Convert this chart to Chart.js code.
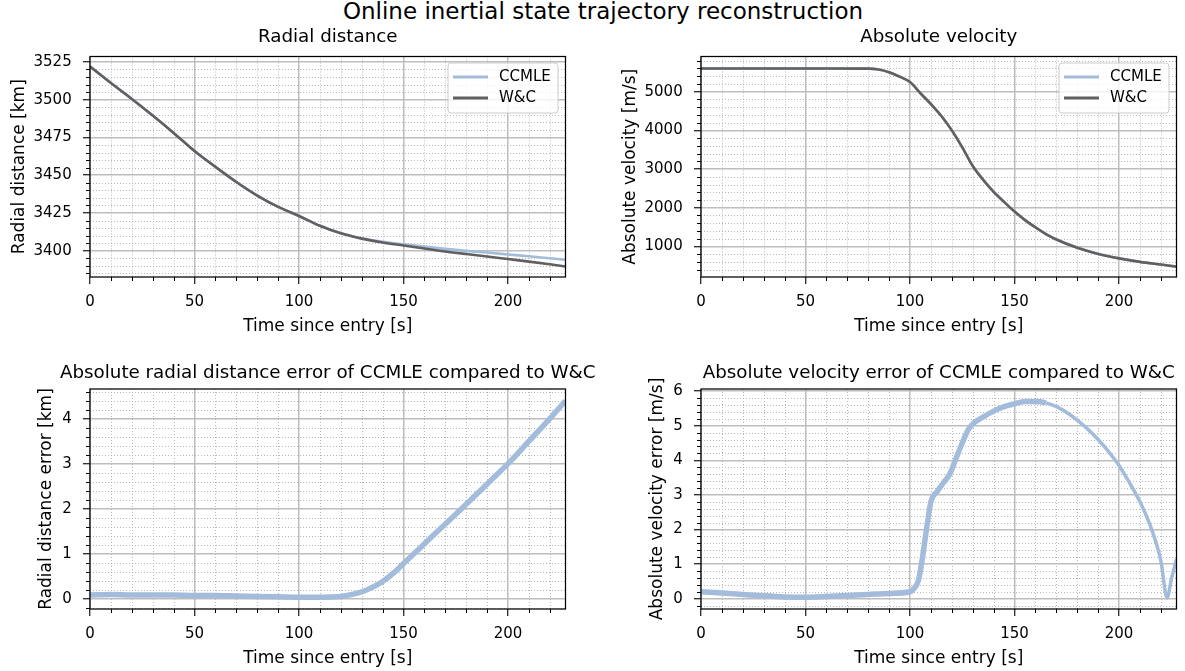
<!DOCTYPE html>
<html>
<head>
<meta charset="utf-8">
<script src="https://cdn.jsdelivr.net/npm/chart.js@4.4.1/dist/chart.umd.min.js"></script>
<style>
  html, body { margin: 0; padding: 0; background: #fff; overflow: hidden; }
  body { width: 1185px; height: 671px; position: relative; font-family: 'DejaVu Sans', sans-serif; }
  canvas { position: absolute; }
  #suptitle { position: absolute; left: 21px; top: 0; width: 1164px; text-align: center;
              font-size: 23px; line-height: 23px; color: #000; }
</style>
</head>
<body>
<div id="suptitle">Online inertial state trajectory reconstruction</div>
<canvas id="radialChart" width="620" height="340" style="left:0;top:0;width:620px;height:340px"></canvas>
<canvas id="velChart" width="590" height="340" style="left:595px;top:0;width:590px;height:340px"></canvas>
<canvas id="radErrChart" width="620" height="331" style="left:0;top:340px;width:620px;height:331px"></canvas>
<canvas id="velErrChart" width="590" height="331" style="left:595px;top:340px;width:590px;height:331px"></canvas>
<script>
// values
var timeTicks = [0, 50, 100, 150, 200];

var timeRadial = [0, 10, 20, 30, 40, 50, 60, 70, 80, 90, 100, 110, 120, 130, 140, 150, 160, 170, 180, 190, 200, 210, 220, 227.5];
var radialWC = [3522, 3511, 3500.5, 3489.5, 3478, 3466, 3455.5, 3445.5, 3436.5, 3429, 3423, 3416.5, 3411.5, 3408, 3405.5, 3403.5, 3401.5, 3399.5, 3397.8, 3396.2, 3394.5, 3392.8, 3391, 3389.6];
var radialCCMLE = [3522.1, 3511.1, 3500.6, 3489.6, 3478.1, 3466.1, 3455.6, 3445.6, 3436.6, 3429.0, 3423.0, 3416.5, 3411.6, 3408.2, 3405.9, 3404.3, 3402.7, 3401.2, 3399.9, 3398.8, 3397.5, 3396.3, 3395.0, 3394.0];
var radialTicks = [3400, 3425, 3450, 3475, 3500, 3525];

var timeVel = [0, 20, 40, 60, 80, 85, 90, 95, 100, 105, 110, 115, 120, 125, 130, 135, 140, 145, 150, 155, 160, 165, 170, 180, 190, 200, 210, 220, 227.5];
var velWC = [5600, 5600, 5600, 5600, 5597, 5575, 5505, 5390, 5250, 4960, 4680, 4370, 4000, 3560, 3080, 2720, 2410, 2150, 1900, 1680, 1490, 1320, 1180, 965, 805, 690, 600, 530, 478];
var velCCMLE = [5600.2, 5600.1, 5600.1, 5600.1, 5597.1, 5575.2, 5505.2, 5390.2, 5250.3, 4960.9, 4682.9, 4373.3, 4003.7, 3564.5, 3085.1, 2725.3, 2415.4, 2155.6, 1905.6, 1685.7, 1495.7, 1325.7, 1185.6, 970.2, 809.6, 693.9, 602.8, 531.1, 479.2];
var velTicks = [1000, 2000, 3000, 4000, 5000];

var timeRadErr = [0, 10, 20, 30, 40, 50, 60, 70, 80, 90, 100, 110, 115, 120, 125, 130, 135, 140, 145, 150, 155, 160, 165, 170, 180, 190, 200, 210, 220, 227.5];
var radErr = [0.08, 0.09, 0.08, 0.08, 0.08, 0.07, 0.07, 0.06, 0.05, 0.04, 0.03, 0.03, 0.035, 0.05, 0.09, 0.15, 0.25, 0.38, 0.56, 0.78, 1.0, 1.22, 1.44, 1.66, 2.1, 2.55, 3.0, 3.5, 4.0, 4.4];
var radErrTicks = [0, 1, 2, 3, 4];

var timeVelErr = [0, 10, 20, 30, 40, 50, 60, 70, 80, 90, 100, 102, 104, 106, 108, 110, 113, 116, 119, 122, 125, 128, 131, 135, 140, 145, 150, 155, 160, 165, 170, 175, 180, 185, 190, 195, 200, 205, 210, 215, 220, 223, 225, 227.5];
var velErr = [0.2, 0.16, 0.12, 0.08, 0.05, 0.04, 0.06, 0.09, 0.12, 0.15, 0.2, 0.3, 0.52, 1.2, 2.05, 2.8, 3.1, 3.35, 3.6, 4.05, 4.5, 4.9, 5.1, 5.25, 5.42, 5.55, 5.63, 5.7, 5.7, 5.66, 5.55, 5.38, 5.16, 4.9, 4.6, 4.25, 3.85, 3.35, 2.8, 2.1, 1.1, 0.02, 0.55, 1.15];
var velErrTicks = [0, 1, 2, 3, 4, 5, 6];

var blue = '#a4bcdc';
var grey = '#606060';

Chart.defaults.font.family = "'DejaVu Sans', sans-serif";
Chart.defaults.font.size = 15;
Chart.defaults.color = '#000';

function pts(xs, ys) {
    return xs.map(function (x, i) { return {x: x, y: ys[i]}; });
}

function isMajor(v, step) {
    var r = v / step;
    return Math.abs(r - Math.round(r)) < 1e-6;
}

function fixedTicks(list) {
    return function (s) { s.ticks = list.map(function (v) { return {value: v}; }); };
}

// matplotlib-like minor grid, minor ticks, frame, axes title and legend
var mplExtras = {
    id: 'mplExtras',
    beforeDatasetsDraw: function (chart, args, o) {
        var ctx = chart.ctx, a = chart.chartArea, x = chart.scales.x, y = chart.scales.y;
        ctx.save();
        ctx.lineWidth = 1;
        ctx.strokeStyle = '#b8b8b8';
        ctx.setLineDash([1, 2]);
        var v, p;
        for (v = Math.ceil(x.min / o.xStep) * o.xStep; v <= x.max; v += o.xStep) {
            if (isMajor(v, o.xMajor)) continue;
            p = Math.round(x.getPixelForValue(v)) + 0.5;
            ctx.beginPath(); ctx.moveTo(p, a.top); ctx.lineTo(p, a.bottom); ctx.stroke();
        }
        for (v = Math.ceil(y.min / o.yStep) * o.yStep; v <= y.max; v += o.yStep) {
            if (isMajor(v, o.yMajor)) continue;
            p = Math.round(y.getPixelForValue(v)) + 0.5;
            ctx.beginPath(); ctx.moveTo(a.left, p); ctx.lineTo(a.right, p); ctx.stroke();
        }
        // minor tick marks
        ctx.setLineDash([]);
        ctx.strokeStyle = '#000';
        for (v = Math.ceil(x.min / o.xStep) * o.xStep; v <= x.max; v += o.xStep) {
            if (isMajor(v, o.xMajor)) continue;
            p = Math.round(x.getPixelForValue(v)) + 0.5;
            ctx.beginPath(); ctx.moveTo(p, a.bottom); ctx.lineTo(p, a.bottom + 4); ctx.stroke();
        }
        for (v = Math.ceil(y.min / o.yStep) * o.yStep; v <= y.max; v += o.yStep) {
            if (isMajor(v, o.yMajor)) continue;
            p = Math.round(y.getPixelForValue(v)) + 0.5;
            ctx.beginPath(); ctx.moveTo(a.left, p); ctx.lineTo(a.left - 4, p); ctx.stroke();
        }
        ctx.restore();
    },
    afterDatasetsDraw: function (chart) {
        var ctx = chart.ctx, a = chart.chartArea;
        ctx.save();
        ctx.strokeStyle = '#000';
        ctx.lineWidth = 1.25;
        ctx.strokeRect(a.left, a.top, a.right - a.left, a.bottom - a.top);
        ctx.restore();
    },
    afterDraw: function (chart, args, o) {
        var ctx = chart.ctx, a = chart.chartArea;
        ctx.save();
        // axes title, centred over the plot area
        ctx.font = "18.3px 'DejaVu Sans'";
        ctx.textAlign = 'center';
        ctx.textBaseline = 'middle';
        ctx.fillStyle = '#000';
        ctx.fillText(o.title, (a.left + a.right) / 2, a.top - o.titleGap);
        if (o.legend) {
            var bw = 110, bh = 50;
            var bx = a.right - 7.5 - bw, by = a.top + 6.5;
            ctx.beginPath();
            ctx.roundRect(bx, by, bw, bh, 3);
            ctx.fillStyle = 'rgba(255,255,255,0.8)';
            ctx.fill();
            ctx.strokeStyle = '#cccccc';
            ctx.lineWidth = 1;
            ctx.stroke();
            ctx.font = "15px 'DejaVu Sans'";
            ctx.textAlign = 'left';
            ctx.fillStyle = '#000';
            chart.data.datasets.forEach(function (ds, i) {
                var yy = by + 14 + i * 21;
                ctx.beginPath();
                ctx.strokeStyle = ds.borderColor;
                ctx.lineWidth = 2.8;
                ctx.moveTo(bx + 5, yy); ctx.lineTo(bx + 40, yy);
                ctx.stroke();
                ctx.fillText(ds.label, bx + 51, yy);
            });
        }
        ctx.restore();
    }
};

function makeChart(id, c) {
    var tl = 7;
    return new Chart(document.getElementById(id), {
        type: 'line',
        data: { datasets: c.datasets },
        options: {
            responsive: false,
            animation: false,
            devicePixelRatio: 1,
            events: [],
            layout: { padding: { left: 0, top: c.padTop, right: c.padRight, bottom: c.padBottom } },
            elements: { point: { radius: 0 }, line: { cubicInterpolationMode: 'monotone' } },
            plugins: {
                legend: { display: false },
                tooltip: { enabled: false },
                title: { display: false },
                mplExtras: c.extras
            },
            scales: {
                x: {
                    type: 'linear', min: 0, max: 227.5,
                    afterFit: function (s) { s.height = 59.5; },
                    afterBuildTicks: fixedTicks(timeTicks),
                    ticks: { padding: 9, maxRotation: 0, autoSkip: false,
                             callback: function (v) { return String(v); } },
                    grid: { color: '#bdbdbd', lineWidth: 1.5, tickColor: '#000', tickLength: tl, tickWidth: 1.1 },
                    border: { display: false },
                    title: { display: true, text: 'Time since entry [s]', font: { size: 17 }, padding: { top: 0, bottom: 0 } }
                },
                y: {
                    type: 'linear', min: c.yMin, max: c.yMax,
                    afterFit: function (s) { s.width = c.yWidth; },
                    afterBuildTicks: fixedTicks(c.yTicks),
                    ticks: { padding: 11.3, autoSkip: false,
                             callback: function (v) { return String(v); } },
                    grid: { color: '#bdbdbd', lineWidth: 1.5, tickColor: '#000', tickLength: tl, tickWidth: 1.1 },
                    border: { display: false },
                    title: { display: true, text: c.yLabel, font: { size: 17 }, padding: { top: c.yTitleTop, bottom: 0 } }
                }
            }
        },
        plugins: [mplExtras]
    });
}

makeChart('radialChart', {
    yLabel: 'Radial distance [km]',
    yMin: 3382.6, yMax: 3528.6, yTicks: radialTicks,
    yWidth: 90, yTitleTop: 9, padTop: 56.5, padRight: 54.5, padBottom: 3.5,
    extras: { title: 'Radial distance', titleGap: 19, xStep: 10, xMajor: 50, yStep: 5, yMajor: 25, legend: true },
    datasets: [
        { label: 'CCMLE', data: pts(timeRadial, radialCCMLE), borderColor: blue, borderWidth: 2.6, clip: 0, order: 1 },
        { label: 'W&C', data: pts(timeRadial, radialWC), borderColor: grey, borderWidth: 2.6, clip: 0, order: 0 }
    ]
});

makeChart('velChart', {
    yLabel: 'Absolute velocity [m/s]',
    yMin: 209, yMax: 5910, yTicks: velTicks,
    yWidth: 106, yTitleTop: 25, padTop: 56.5, padRight: 8.5, padBottom: 3.5,
    extras: { title: 'Absolute velocity', titleGap: 19, xStep: 10, xMajor: 50, yStep: 200, yMajor: 1000, legend: true },
    datasets: [
        { label: 'CCMLE', data: pts(timeVel, velCCMLE), borderColor: blue, borderWidth: 2.6, clip: 0, order: 1 },
        { label: 'W&C', data: pts(timeVel, velWC), borderColor: grey, borderWidth: 2.6, clip: 0, order: 0 }
    ]
});

makeChart('radErrChart', {
    yLabel: 'Radial distance error [km]',
    yMin: -0.23, yMax: 4.66, yTicks: radErrTicks,
    yWidth: 90, yTitleTop: 36.8, padTop: 49, padRight: 54.5, padBottom: 2.5,
    extras: { title: 'Absolute radial distance error of CCMLE compared to W&C', titleGap: 15.5,
              xStep: 10, xMajor: 50, yStep: 0.2, yMajor: 1, legend: false },
    datasets: [
        { label: 'CCMLE', data: pts(timeRadErr, radErr), borderColor: blue, borderWidth: 5.5, clip: 0 }
    ]
});

makeChart('velErrChart', {
    yLabel: 'Absolute velocity error [m/s]',
    yMin: -0.3, yMax: 6.06, yTicks: velErrTicks,
    yWidth: 106, yTitleTop: 52.5, padTop: 49, padRight: 8.5, padBottom: 2.5,
    extras: { title: 'Absolute velocity error of CCMLE compared to W&C', titleGap: 15.5,
              xStep: 10, xMajor: 50, yStep: 0.2, yMajor: 1, legend: false },
    datasets: [
        { label: 'CCMLE', data: pts(timeVelErr, velErr), borderColor: blue, borderWidth: 5, clip: 0,
          segment: { borderWidth: function (ctx) { return ctx.p0.parsed.x < 165 ? 5.5 : 3.5; } } }
    ]
});
</script>
</body>
</html>
